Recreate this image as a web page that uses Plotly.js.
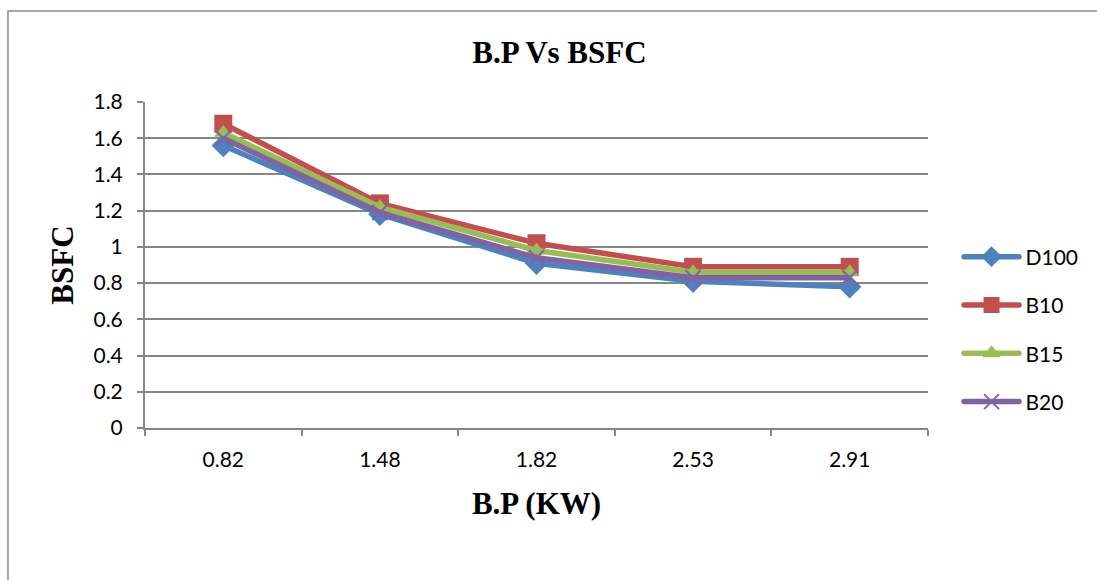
<!DOCTYPE html>
<html>
<head>
<meta charset="utf-8">
<script src="https://cdn.plot.ly/plotly-3.0.1.min.js"></script>
<style>html,body{margin:0;padding:0;background:#fff;}#chart{width:1097px;height:580px;}</style>
</head>
<body>
<div id="chart"></div>
<script>
const categories = ["0.82", "1.48", "1.82", "2.53", "2.91"];
const seriesNames = ["D100", "B10", "B15", "B20"];
const d100 = [1.56, 1.18, 0.91, 0.81, 0.78];
const b10 = [1.68, 1.24, 1.02, 0.89, 0.89];
const b15 = [1.63, 1.22, 0.98, 0.86, 0.86];
const b20 = [1.60, 1.19, 0.94, 0.83, 0.83];
const colors = ["#4F81BD", "#C0504D", "#9BBB59", "#8064A2"];
const symbols = ["diamond", "square", "triangle-up", "x-thin-open"];
const values = [d100, b10, b15, b20];

const serif = "Liberation Serif, Times New Roman, serif";
const sans = "Lato, Open Sans, sans-serif";

const traces = values.map((v, i) => ({
  type: "scatter",
  mode: "lines+markers",
  x: categories,
  y: v,
  name: seriesNames[i],
  legendgroup: "g" + i,
  line: {color: colors[i], width: 5.5},
  marker: i === 3
    ? {symbol: symbols[i], size: 15, color: colors[i], line: {color: colors[i], width: 2}}
    : {symbol: symbols[i], size: i === 2 ? 16 : 18, color: colors[i]}
}));

const layout = {
  width: 1097, height: 580,
  margin: {l: 145, r: 169, t: 102, b: 152},
  paper_bgcolor: "#fff", plot_bgcolor: "#fff",
  showlegend: true,
  title: {text: "<b>B.P Vs BSFC</b>", x: 0.51, xanchor: "center", y: 0.91, yanchor: "middle",
          font: {family: serif, size: 31, color: "#000"}},
  xaxis: {
    type: "category", range: [-0.5, 4.5],
    showgrid: false, showline: true, linecolor: "#868686", linewidth: 2,
    ticks: "outside", tickson: "boundaries", ticklen: 6, tickcolor: "#868686", tickwidth: 2,
    ticklabelstandoff: 12,
    tickfont: {family: sans, size: 21, color: "#000"},
    title: {text: "<b>B.P (KW)</b>", standoff: 22,
            font: {family: serif, size: 31, color: "#000"}},
    zeroline: false
  },
  yaxis: {
    range: [0, 1.8], dtick: 0.2, tickformat: "~g",
    showgrid: true, gridcolor: "#868686", gridwidth: 2,
    showline: true, linecolor: "#868686", linewidth: 2,
    ticks: "outside", ticklen: 6, tickcolor: "#868686", tickwidth: 2,
    ticklabelstandoff: 10,
    tickfont: {family: sans, size: 21, color: "#000"},
    title: {text: "<b>BSFC</b>", standoff: 11,
            font: {family: serif, size: 31, color: "#000"}},
    zeroline: false
  },
  legend: {
    x: 1.0556, y: 0.302, xanchor: "left", yanchor: "middle",
    font: {family: sans, size: 21, color: "#000"},
    tracegroupgap: 18, bgcolor: "rgba(0,0,0,0)"
  },
  shapes: [{
    type: "rect", xref: "paper", yref: "paper",
    x0: -0.175, x1: 1.3, y0: -0.6, y1: 1.279,
    line: {color: "#8c8c8c", width: 1.5}, fillcolor: "rgba(0,0,0,0)", layer: "below"
  }]
};

Plotly.newPlot("chart", traces, layout, {displayModeBar: false, staticPlot: true}).then(gd => {
  // lengthen legend sample lines like the original spreadsheet legend
  gd.querySelectorAll(".legend .legendlines path").forEach(p => {
    p.setAttribute("d", "M-7.5,0h55");
    p.style.strokeLinecap = "round";
  });
  gd.querySelectorAll(".legend .legendtext").forEach(t => t.setAttribute("x", "54"));
  gd.querySelectorAll(".legend [clip-path]").forEach(e => e.removeAttribute("clip-path"));
});
</script>
</body>
</html>
